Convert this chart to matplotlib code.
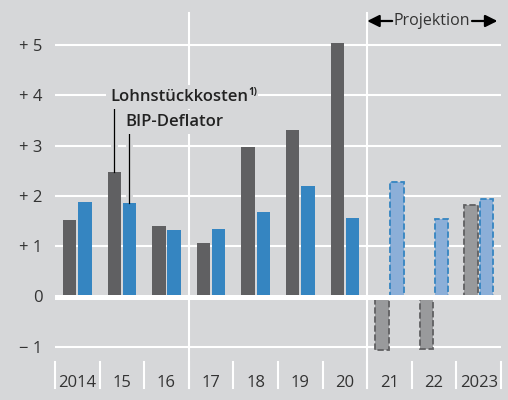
import numpy as np
import matplotlib.pyplot as plt

years = ['2014', '15', '16', '17', '18', '19', '20', '21', '22', '2023']
lohnstueck = [1.53, 2.48, 1.40, 1.06, 2.98, 3.31, 5.03, -1.06, -1.05, 1.81]
deflator = [1.87, 1.85, 1.32, 1.34, 1.67, 2.20, 1.57, 2.28, 1.55, 1.94]
n_proj = 3  # last three years are projections
yticks = [-1, 0, 1, 2, 3, 4, 5]
ylabels = ['\u2212 1', '0', '+ 1', '+ 2', '+ 3', '+ 4', '+ 5']

bg = '#d6d7d9'
dark = '#606062'
blue = '#3585c1'
light_gray = '#999a9c'
light_blue = '#8cafd8'
txt = '#333333'

plt.rcParams['font.family'] = ['Open Sans', 'DejaVu Sans']

fig = plt.figure(figsize=(5.08, 4.0), dpi=100, facecolor=bg)
ax = fig.add_axes([55 / 508, 0, 446 / 508, 1])
ax.set_facecolor(bg)
for s in ax.spines.values():
    s.set_visible(False)

px = 50.3
y0 = 296.5
def py(p):
    # pixel row -> data value
    return (y0 - p) / px

ax.set_ylim(py(400), py(0))
ax.set_xlim(-0.5, 9.5)

x = np.arange(len(years))
w = 0.3
off = 0.17
nh = len(years) - n_proj

# gridlines
for t in yticks:
    if t != 0:
        ax.axhline(t, color='white', lw=1.5, zorder=1)
ax.axhline(0, color='white', lw=3.6, zorder=4)

# vertical separators
for b in [3, 7]:
    ax.plot([b - 0.5, b - 0.5], [py(13), py(388)], color='white', lw=1.5, zorder=1)
for b in range(len(years) + 1):
    ax.plot([b - 0.5, b - 0.5], [py(362), py(388)], color='white', lw=1.5,
            zorder=1, clip_on=False)

# historic bars
ax.bar(x[:nh] - off, lohnstueck[:nh], w, color=dark, zorder=3)
ax.bar(x[:nh] + off, deflator[:nh], w, color=blue, zorder=3)
# projections
ax.bar(x[nh:] - off, lohnstueck[nh:], w, color=light_gray, edgecolor=dark,
       linestyle=(0, (3.5, 1.5)), lw=1.3, zorder=3)
ax.bar(x[nh:] + off, deflator[nh:], w, color=light_blue, edgecolor=blue,
       linestyle=(0, (3.5, 1.5)), lw=1.3, zorder=3)

ax.set_yticks(yticks)
ax.set_yticklabels(ylabels)
ax.set_xticks([])
ax.tick_params(axis='y', length=0, pad=9, labelsize=12, labelcolor=txt)

for i, yr in enumerate(years):
    ax.text(i, py(383), yr, ha='center', va='center', fontsize=12, color=txt)

# legend annotations with leader lines
lx1 = 1 - off
lx2 = 1 + off
for lx, top, ytop in [(lx1, lohnstueck[1], py(108)), (lx2, deflator[1], py(130))]:
    ax.plot([lx, lx], [top, ytop], color=bg, lw=5, zorder=2, solid_capstyle='butt')
    ax.plot([lx, lx], [top, ytop], color='black', lw=0.9, zorder=5)

t1 = ax.text(0.735, py(97), 'Lohnstückkosten', fontsize=12,
             fontweight='semibold', ha='left', va='center', color='#222222', zorder=6,
             bbox=dict(facecolor=bg, edgecolor='none', pad=3))
ax.annotate('1)', xy=(1, 0.78), xycoords=t1, fontsize=7, fontweight='bold',
            ha='left', va='center', color='#222222', zorder=6,
            bbox=dict(facecolor=bg, edgecolor='none', pad=1))
ax.text(1.07, py(122), 'BIP-Deflator', fontsize=12,
        fontweight='semibold', ha='left', va='center', color='#222222', zorder=6,
        bbox=dict(facecolor=bg, edgecolor='none', pad=3))

# projection header
yh = py(21)
ax.text(7.95, yh, 'Projektion', fontsize=11.5, ha='center', va='center',
        color=txt)
ax.annotate('', xy=(6.5, yh), xytext=(7.06, yh),
            arrowprops=dict(arrowstyle='-|>', color='black', lw=1.6,
                            mutation_scale=18, shrinkA=0, shrinkB=0))
ax.annotate('', xy=(9.42, yh), xytext=(8.85, yh),
            arrowprops=dict(arrowstyle='-|>', color='black', lw=1.6,
                            mutation_scale=18, shrinkA=0, shrinkB=0))

plt.savefig('out.png', dpi=100, facecolor=bg)
